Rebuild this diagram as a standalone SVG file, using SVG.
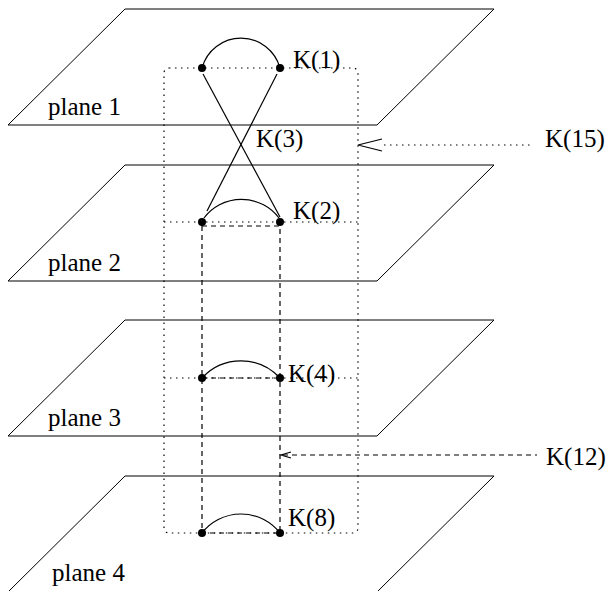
<svg xmlns="http://www.w3.org/2000/svg" width="610" height="591" viewBox="0 0 610 591">
<style>
.plane{fill:none;stroke:#000;stroke-width:1}
.lbl{font-family:"Liberation Serif","Times New Roman",serif;font-size:25px;fill:#000}
.dot{fill:none;stroke:#000;stroke-width:1.2;stroke-dasharray:1.5 4.5}
.dash{fill:none;stroke:#000;stroke-width:1.2;stroke-dasharray:5 4}
.solid{fill:none;stroke:#000;stroke-width:1.2}
.node{fill:#000}
</style>
<rect width="610" height="591" fill="#fff"/>
<g id="plane1"><polygon class="plane" points="125,9 494,9 377,125 8,125"/><text class="lbl" x="48" y="115">plane 1</text></g>
<g id="plane2"><polygon class="plane" points="125,165 494,165 377,281 8,281"/><text class="lbl" x="48" y="271">plane 2</text></g>
<g id="plane3"><polygon class="plane" points="125,320 494,320 377,436 8,436"/><text class="lbl" x="48" y="426">plane 3</text></g>
<g id="plane4"><polygon class="plane" points="125,476 494,476 377,592 8,592"/><text class="lbl" x="52" y="581">plane 4</text></g>
<g id="connectors">
<rect class="dot" x="164" y="68" width="194" height="465" rx="5" ry="5"/>
<line class="dot" x1="164" y1="222" x2="358" y2="222"/>
<line class="dot" x1="164" y1="378" x2="358" y2="378"/>
<path class="dash" d="M202,226 H280 V533 H202 Z"/>
<line class="dash" x1="202" y1="378" x2="280" y2="378"/>
<line class="solid" x1="203" y1="74" x2="280" y2="217"/>
<line class="solid" x1="277" y1="74" x2="207" y2="211"/>
<path class="solid" d="M202,68 A40.4,40.4 0 0 1 280,68"/>
<path class="solid" d="M204,218 A47,47 0 0 1 279,218"/>
<path class="solid" d="M202,378 A53,53 0 0 1 280,378"/>
<path class="solid" d="M202,533 A49.5,49.5 0 0 1 280,533"/>
<line class="dot" x1="384" y1="145" x2="532" y2="145"/>
<polyline class="solid" points="382,139 358,145 382,151"/>
<line class="dash" x1="283" y1="455" x2="537" y2="455"/>
<polyline class="solid" points="291,452 281,455 291,458"/>
</g>
<g id="k1"><circle class="node" cx="202" cy="68" r="4"/><circle class="node" cx="280" cy="68" r="4"/><text class="lbl" x="293" y="68">K(1)</text></g>
<g id="k2"><circle class="node" cx="202" cy="222" r="4"/><circle class="node" cx="280" cy="222" r="4"/><text class="lbl" x="293" y="219">K(2)</text></g>
<g id="k3"><text class="lbl" x="256" y="147">K(3)</text></g>
<g id="k4"><circle class="node" cx="202" cy="378" r="4"/><circle class="node" cx="280" cy="378" r="4"/><text class="lbl" x="288" y="382">K(4)</text></g>
<g id="k8"><circle class="node" cx="202" cy="533" r="4"/><circle class="node" cx="280" cy="533" r="4"/><text class="lbl" x="288" y="526">K(8)</text></g>
<g id="k15"><text class="lbl" x="545" y="147">K(15)</text></g>
<g id="k12"><text class="lbl" x="546" y="465">K(12)</text></g>
</svg>
